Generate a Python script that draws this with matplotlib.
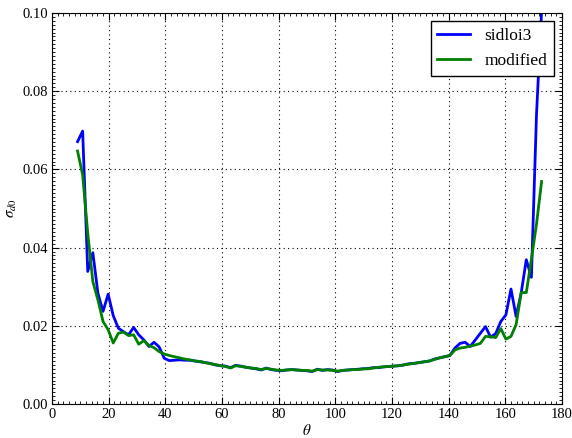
import matplotlib
matplotlib.use("Agg")
import matplotlib.pyplot as plt
from matplotlib.ticker import MultipleLocator

plt.rcParams['font.family'] = ['Liberation Serif', 'DejaVu Serif']
plt.rcParams['mathtext.fontset'] = 'stix'

# scattering angle grid (deg)
theta = [9.0, 10.8, 12.6, 14.4, 16.2, 18.0, 19.8, 21.6, 23.4, 25.2,
         27.0, 28.8, 30.6, 32.4, 34.2, 36.0, 37.8, 39.6, 41.4, 43.2,
         45.0, 46.8, 48.6, 50.4, 52.2, 54.0, 55.8, 57.6, 59.4, 61.2,
         63.0, 64.8, 66.6, 68.4, 70.2, 72.0, 73.8, 75.6, 77.4, 79.2,
         81.0, 82.8, 84.6, 86.4, 88.2, 90.0, 91.8, 93.6, 95.4, 97.2,
         99.0, 100.8, 102.6, 104.4, 106.2, 108.0, 109.8, 111.6, 113.4, 115.2,
         117.0, 118.8, 120.6, 122.4, 124.2, 126.0, 127.8, 129.6, 131.4, 133.2,
         135.0, 136.8, 138.6, 140.4, 142.2, 144.0, 145.8, 147.6, 149.4, 151.2,
         153.0, 154.8, 156.6, 158.4, 160.2, 162.0, 163.8, 165.6, 167.4, 169.2,
         171.0, 172.8]

sidloi3 = [0.0671, 0.0698, 0.0339, 0.0387, 0.0283, 0.0237, 0.0281, 0.0226, 0.0194, 0.0185,
           0.0177, 0.0196, 0.0177, 0.0164, 0.0147, 0.0158, 0.0146, 0.0117, 0.0111, 0.0112,
           0.0113, 0.0112, 0.0112, 0.0110, 0.0108, 0.0106, 0.0104, 0.0100, 0.0098, 0.0097,
           0.0093, 0.0099, 0.0097, 0.0094, 0.0092, 0.0090, 0.0087, 0.0092, 0.0088, 0.0086,
           0.0085, 0.0087, 0.0088, 0.0087, 0.0086, 0.0085, 0.0083, 0.0089, 0.0086, 0.0088,
           0.0087, 0.0083, 0.0086, 0.0087, 0.0088, 0.0089, 0.0090, 0.0091, 0.0093, 0.0093,
           0.0095, 0.0096, 0.0097, 0.0098, 0.0100, 0.0103, 0.0104, 0.0106, 0.0108, 0.0110,
           0.0115, 0.0118, 0.0121, 0.0124, 0.0143, 0.0155, 0.0158, 0.0147, 0.0164, 0.0181,
           0.0198, 0.0171, 0.0180, 0.0211, 0.0228, 0.0294, 0.0224, 0.0284, 0.0369, 0.0324,
           0.0740, 0.1005]

modified = [0.0647, 0.0586, 0.0437, 0.0313, 0.0266, 0.0211, 0.0190, 0.0156, 0.0181, 0.0184,
            0.0175, 0.0177, 0.0153, 0.0162, 0.0150, 0.0144, 0.0134, 0.0128, 0.0124, 0.0121,
            0.0118, 0.0115, 0.0113, 0.0110, 0.0109, 0.0106, 0.0103, 0.0101, 0.0098, 0.0096,
            0.0092, 0.0098, 0.0096, 0.0094, 0.0092, 0.0091, 0.0088, 0.0091, 0.0089, 0.0087,
            0.0086, 0.0087, 0.0088, 0.0087, 0.0086, 0.0086, 0.0084, 0.0088, 0.0087, 0.0087,
            0.0086, 0.0084, 0.0086, 0.0087, 0.0088, 0.0088, 0.0090, 0.0090, 0.0092, 0.0094,
            0.0095, 0.0096, 0.0097, 0.0098, 0.0100, 0.0102, 0.0104, 0.0106, 0.0108, 0.0110,
            0.0114, 0.0118, 0.0121, 0.0124, 0.0138, 0.0143, 0.0145, 0.0148, 0.0151, 0.0155,
            0.0173, 0.0172, 0.0170, 0.0193, 0.0166, 0.0173, 0.0203, 0.0285, 0.0285, 0.0370,
            0.0460, 0.0569]

fig = plt.figure(figsize=(5.72, 4.38), dpi=100)
ax = fig.add_axes([0.091, 0.0776, 0.8915, 0.8927])

ax.plot(theta, sidloi3, color='b', lw=2, label='sidloi3')
ax.plot(theta, modified, color='g', lw=2, label='modified')

ax.set_xlim(0, 180)
ax.set_ylim(0, 0.10)
ax.xaxis.set_major_locator(MultipleLocator(20))
ax.yaxis.set_major_locator(MultipleLocator(0.02))
ax.xaxis.set_minor_locator(MultipleLocator(2))
ax.yaxis.set_minor_locator(MultipleLocator(0.001))
ax.yaxis.set_major_formatter(matplotlib.ticker.FormatStrFormatter('%.2f'))

ax.tick_params(which='both', direction='in', top=True, right=True, labelsize=10.5, pad=3)
ax.tick_params(which='major', length=5)
ax.tick_params(which='minor', length=2)

ax.grid(True, color='k', linestyle=(0, (1, 3)), linewidth=0.8)

ax.set_xlabel(r'$\theta$', fontsize=11, labelpad=1)
ax.set_ylabel(r'$\sigma_{d0}$', fontsize=11, labelpad=2)

leg = ax.legend(loc='upper right', fontsize=12.5, fancybox=False, framealpha=1,
                edgecolor='k', borderaxespad=0.45, handlelength=1.9)
leg.get_frame().set_linewidth(1)

fig.savefig('out.png', dpi=100)
